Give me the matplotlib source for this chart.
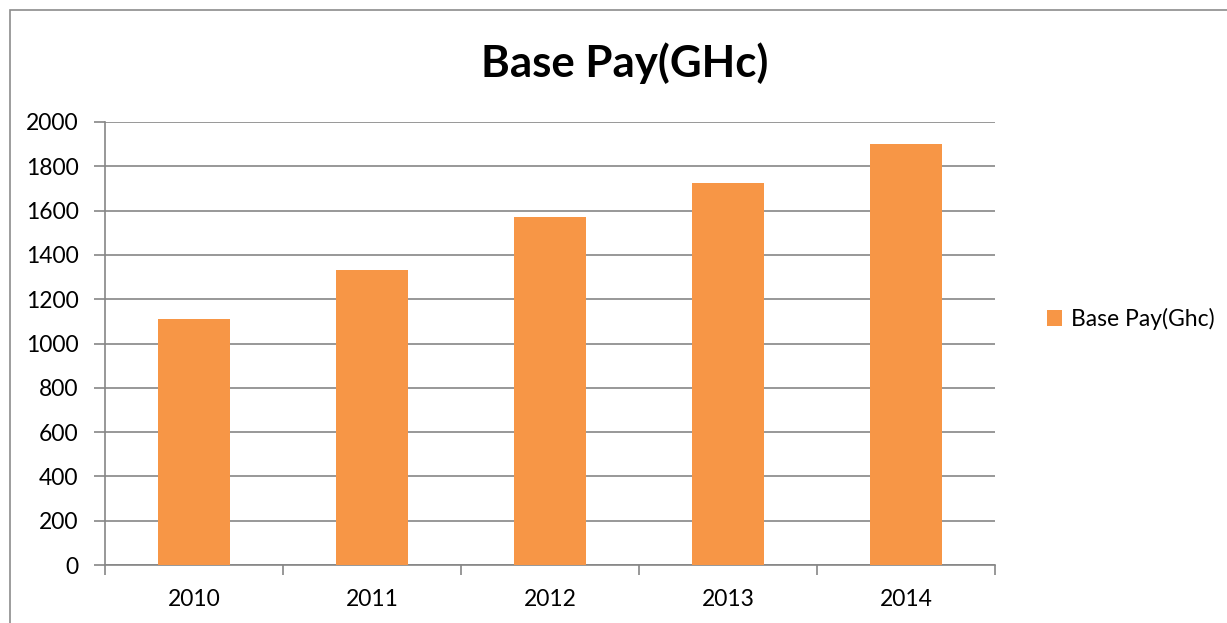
import numpy as np
import matplotlib
matplotlib.use("Agg")
import matplotlib.pyplot as plt
from matplotlib.patches import Rectangle

years = ["2010", "2011", "2012", "2013", "2014"]
base_pay = [1110, 1330, 1570, 1725, 1900]
y_ticks = [0, 200, 400, 600, 800, 1000, 1200, 1400, 1600, 1800, 2000]

plt.rcParams["font.family"] = ["Lato", "DejaVu Sans"]

fig = plt.figure(figsize=(12.27, 6.23), dpi=100)
W, H = 1227, 623

# chart frame, cut at the right and bottom edges
fig.patches.append(Rectangle((10 / W, -0.1), 1.2, 1 - 10 / H + 0.1,
                             transform=fig.transFigure, fill=False,
                             edgecolor="#8c8c8c", linewidth=1.2))

ax = fig.add_axes([105 / W, 58 / H, 890 / W, 443 / H])
x = np.arange(len(years))
ax.bar(x, base_pay, width=0.4, color="#F79646", label="Base Pay(Ghc)", zorder=3)

ax.set_xlim(-0.5, len(years) - 0.5)
ax.set_ylim(0, 2000)
ax.set_yticks(y_ticks)
ax.set_yticklabels([str(v) for v in y_ticks], fontsize=16.5)
ax.yaxis.grid(True, color="#868686", linewidth=1.2, zorder=0)

ax.set_xticks(x)
ax.set_xticklabels(years, fontsize=16.5)
ax.tick_params(axis="x", length=0, pad=17)
ax.set_xticks(np.arange(len(years) + 1) - 0.5, minor=True)
ax.tick_params(axis="x", which="minor", length=7, width=1.2, color="#868686", direction="out")
ax.tick_params(axis="y", length=8, width=1.2, color="#868686", direction="out", pad=11)

for s in ["top", "right"]:
    ax.spines[s].set_visible(False)
for s in ["left", "bottom"]:
    ax.spines[s].set_color("#868686")
    ax.spines[s].set_linewidth(1.2)

fig.text(625 / W, 1 - 63 / H, "Base Pay(GHc)", ha="center", va="center",
         fontsize=31.5, fontweight="bold")

ax.legend(loc="center left", bbox_to_anchor=(1026 / W, 1 - 319 / H),
          bbox_transform=fig.transFigure, frameon=False, fontsize=16.5,
          handlelength=0.65, handleheight=0.65, handletextpad=0.4)

fig.savefig("out.png", dpi=100)
